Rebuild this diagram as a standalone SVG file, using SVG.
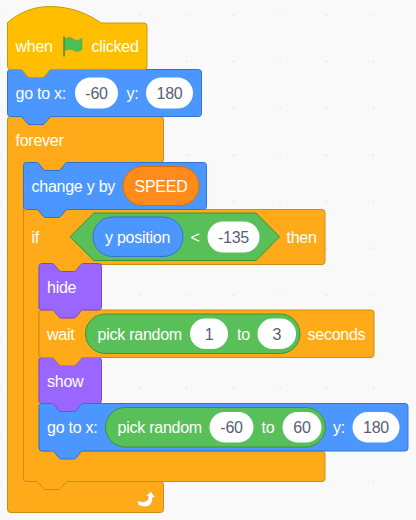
<svg xmlns="http://www.w3.org/2000/svg" width="416" height="520" viewBox="0 0 416 520">
<style>
text{font-family:"Liberation Sans",Arial,sans-serif;font-size:16px;letter-spacing:-.25px}
.t{fill:#fff}
.v{fill:#575E75;text-anchor:middle}
.p{fill:#fff}
.blue{fill:#4C97FF;stroke:#3373CC}
.ctl{fill:#FFAB19;stroke:#CF8B17}
.evt{fill:#FFBF00;stroke:#CC9900}
.look{fill:#9966FF;stroke:#774DCB}
.op{fill:#59C059;stroke:#389438}
.var{fill:#FF8C1A;stroke:#DB6E00}
</style>
<defs>
<pattern id="grid" patternUnits="userSpaceOnUse" x="-23.33" y="-8.33" width="46.67" height="46.67">
<circle cx="23.33" cy="23.33" r="1" fill="#e4e4e4"/>
</pattern>
</defs>
<rect width="416" height="520" fill="#f9f9f9"/>
<rect width="416" height="520" fill="url(#grid)"/>

<g id="forever">
<path class="ctl" d="M7.5 119.5a3 3 0 0 1 3-3H20c1.500 0 2.500.7 3 1.500l4 5c.7.8 1.500 1.500 3 1.500h12c1.500 0 2.300-.7 3-1.500l4-5c.5-.8 1.500-1.500 3-1.500H160.500a3 3 0 0 1 3 3V159.500a3 3 0 0 1-3 3H68c-1.500 0-2.500.7-3 1.500l-4 5c-.7.8-1.500 1.500-3 1.500h-12c-1.500 0-2.300-.7-3-1.500l-4-5c-.5-.8-1.500-1.500-3-1.500H26.500a3 3 0 0 0-3 3V478.500a3 3 0 0 0 3 3H160.500a3 3 0 0 1 3 3V509.500a3 3 0 0 1-3 3H10.500a3 3 0 0 1-3-3Z"/>
<text class="t" x="15.500" y="146">forever</text>
<path d="M137.500 500.200c3 2 7 2.200 9.300.5 1.700-1.400 1.800-3.200 1.200-4.700l-3 .6 6-5.100 4.500 6.200-3-.1c.5 3-.6 6-3.100 7.800-3.200 2.300-8 1.500-11.400-.6z" fill="#fff" stroke="#CF8B17" stroke-width=".4"/>
</g>

<g id="if">
<path class="ctl" d="M23.500 212.500a3 3 0 0 1 3-3H36c1.500 0 2.500.7 3 1.500l4 5c.7.8 1.500 1.500 3 1.500h12c1.500 0 2.300-.7 3-1.500l4-5c.5-.8 1.500-1.500 3-1.500H322a3 3 0 0 1 3 3V261.500a3 3 0 0 1-3 3H83.500c-1.500 0-2.500.7-3 1.500l-4 5c-.7.8-1.500 1.500-3 1.500h-12c-1.500 0-2.300-.7-3-1.500l-4-5c-.5-.8-1.500-1.500-3-1.500H42a3 3 0 0 0-3 3V448a3 3 0 0 0 3 3H322a3 3 0 0 1 3 3V478.500a3 3 0 0 1-3 3H68c-1.500 0-2.500.7-3 1.500l-4 5c-.7.8-1.500 1.500-3 1.500h-12c-1.500 0-2.300-.7-3-1.500l-4-5c-.5-.8-1.500-1.500-3-1.500H26.500a3 3 0 0 1-3-3Z"/>
<text class="t" x="31.500" y="243">if</text>
<path class="op" d="M70 236.800L93.800 213H256L279.500 236.800L256 260.500H93.800Z"/>
<rect class="blue" x="93" y="217" width="90" height="39.500" rx="19.750"/>
<text class="t" x="105" y="243">y position</text>
<text class="t" x="190.500" y="243">&lt;</text>
<rect class="p" x="207.500" y="221.500" width="52" height="31" rx="15.500"/>
<text class="v" x="233.500" y="243">-135</text>
<text class="t" x="286.500" y="243">then</text>
</g>

<g id="goto-random">
<path class="blue" d="M39 406.500a3 3 0 0 1 3-3H51.500c1.500 0 2.500.7 3 1.500l4 5c.7.8 1.500 1.500 3 1.500h12c1.500 0 2.300-.7 3-1.500l4-5c.5-.8 1.500-1.500 3-1.500H405a3 3 0 0 1 3 3V448a3 3 0 0 1-3 3H83.500c-1.500 0-2.500.7-3 1.500l-4 5c-.7.8-1.500 1.500-3 1.500h-12c-1.500 0-2.300-.7-3-1.500l-4-5c-.5-.8-1.500-1.500-3-1.500H42a3 3 0 0 1-3-3Z"/>
<text class="t" x="47" y="433">go to x:</text>
<rect class="op" x="105.500" y="407.500" width="220" height="39.500" rx="19.750"/>
<text class="t" x="117.500" y="433">pick random</text>
<rect class="p" x="209.500" y="412" width="44" height="30.500" rx="15.250"/>
<text class="v" x="231.500" y="433">-60</text>
<text class="t" x="261.500" y="433">to</text>
<rect class="p" x="282.500" y="412" width="39" height="30.500" rx="15.250"/>
<text class="v" x="302" y="433">60</text>
<text class="t" x="333" y="433">y:</text>
<rect class="p" x="352.500" y="412" width="47" height="30.500" rx="15.250"/>
<text class="v" x="376" y="433">180</text>
</g>

<g id="show">
<path class="look" d="M39 360.500a3 3 0 0 1 3-3H51.500c1.500 0 2.500.7 3 1.500l4 5c.7.8 1.500 1.500 3 1.500h12c1.500 0 2.300-.7 3-1.500l4-5c.5-.8 1.500-1.500 3-1.500H98.500a3 3 0 0 1 3 3V400.500a3 3 0 0 1-3 3H83.500c-1.500 0-2.500.7-3 1.500l-4 5c-.7.8-1.500 1.500-3 1.500h-12c-1.500 0-2.300-.7-3-1.500l-4-5c-.5-.8-1.500-1.500-3-1.500H42a3 3 0 0 1-3-3Z"/>
<text class="t" x="47" y="387">show</text>
</g>

<g id="wait">
<path class="ctl" d="M39 313a3 3 0 0 1 3-3H51.500c1.500 0 2.500.7 3 1.500l4 5c.7.8 1.500 1.500 3 1.500h12c1.500 0 2.300-.7 3-1.500l4-5c.5-.8 1.500-1.500 3-1.500H371a3 3 0 0 1 3 3V354.500a3 3 0 0 1-3 3H83.500c-1.500 0-2.500.7-3 1.500l-4 5c-.7.8-1.500 1.500-3 1.500h-12c-1.500 0-2.300-.7-3-1.500l-4-5c-.5-.8-1.500-1.500-3-1.500H42a3 3 0 0 1-3-3Z"/>
<text class="t" x="47" y="340">wait</text>
<rect class="op" x="85.500" y="314" width="214.500" height="39.500" rx="19.750"/>
<text class="t" x="97.500" y="340">pick random</text>
<rect class="p" x="190" y="318.500" width="38" height="30.500" rx="15.250"/>
<text class="v" x="209" y="340">1</text>
<text class="t" x="237" y="340">to</text>
<rect class="p" x="257.500" y="318.500" width="38.500" height="30.500" rx="15.250"/>
<text class="v" x="276.750" y="340">3</text>
<text class="t" x="307.500" y="340">seconds</text>
</g>

<g id="hide">
<path class="look" d="M39 266.500a3 3 0 0 1 3-3H51.500c1.500 0 2.500.7 3 1.500l4 5c.7.8 1.500 1.500 3 1.500h12c1.500 0 2.300-.7 3-1.500l4-5c.5-.8 1.500-1.500 3-1.500H98.500a3 3 0 0 1 3 3V307a3 3 0 0 1-3 3H83.500c-1.500 0-2.500.7-3 1.500l-4 5c-.7.8-1.500 1.500-3 1.500h-12c-1.500 0-2.300-.7-3-1.500l-4-5c-.5-.8-1.500-1.500-3-1.500H42a3 3 0 0 1-3-3Z"/>
<text class="t" x="47" y="293">hide</text>
</g>

<g id="change-y">
<path class="blue" d="M23.500 165.500a3 3 0 0 1 3-3H36c1.500 0 2.500.7 3 1.500l4 5c.7.8 1.500 1.500 3 1.500h12c1.500 0 2.300-.7 3-1.500l4-5c.5-.8 1.500-1.500 3-1.500H203.500a3 3 0 0 1 3 3V206.500a3 3 0 0 1-3 3H68c-1.500 0-2.500.7-3 1.500l-4 5c-.7.8-1.500 1.500-3 1.500h-12c-1.500 0-2.300-.7-3-1.500l-4-5c-.5-.8-1.500-1.500-3-1.500H26.500a3 3 0 0 1-3-3Z"/>
<text class="t" x="31.500" y="192">change y by</text>
<rect class="var" x="123" y="166.500" width="76" height="39" rx="19.500"/>
<text class="t" x="134.500" y="192">SPEED</text>
</g>

<g id="goto">
<path class="blue" d="M7.500 72.500a3 3 0 0 1 3-3H20c1.500 0 2.500.7 3 1.500l4 5c.7.8 1.500 1.500 3 1.500h12c1.500 0 2.300-.7 3-1.500l4-5c.5-.8 1.500-1.500 3-1.500H198.500a3 3 0 0 1 3 3V113.500a3 3 0 0 1-3 3H52c-1.500 0-2.500.7-3 1.500l-4 5c-.7.8-1.500 1.500-3 1.500h-12c-1.500 0-2.300-.7-3-1.500l-4-5c-.5-.8-1.500-1.500-3-1.500H10.500a3 3 0 0 1-3-3Z"/>
<text class="t" x="15.500" y="99">go to x:</text>
<rect class="p" x="75" y="77.500" width="43" height="31" rx="15.500"/>
<text class="v" x="96.500" y="99">-60</text>
<text class="t" x="126.500" y="99">y:</text>
<rect class="p" x="146" y="77.500" width="47" height="31" rx="15.500"/>
<text class="v" x="169.500" y="99">180</text>
</g>

<g id="when-clicked">
<path class="evt" d="M7.500 22.500C20 12 34 6.500 50 6.500C70 6.500 87 13 101 23H144a3 3 0 0 1 3 3V66.500a3 3 0 0 1-3 3H52c-1.500 0-2.500.7-3 1.500l-4 5c-.7.800-1.500 1.500-3 1.500h-12c-1.500 0-2.300-.7-3-1.500l-4-5c-.5-.8-1.500-1.500-3-1.500H10.500a3 3 0 0 1-3-3Z"/>
<text class="t" x="15.500" y="52">when</text>
<rect x="63.200" y="36.500" width="1.700" height="20" fill="#45993D"/>
<path d="M65 39C69 36.500 72 38 74 39.500C76 41 79 40.500 82 38.500V49.500C79 51.500 76.500 52 74 50.500C71.500 49 68.500 48.500 65 50.500Z" fill="#4CBF56" stroke="#45993D" stroke-width=".5"/>
<text class="t" x="91.500" y="52">clicked</text>
</g>
</svg>
